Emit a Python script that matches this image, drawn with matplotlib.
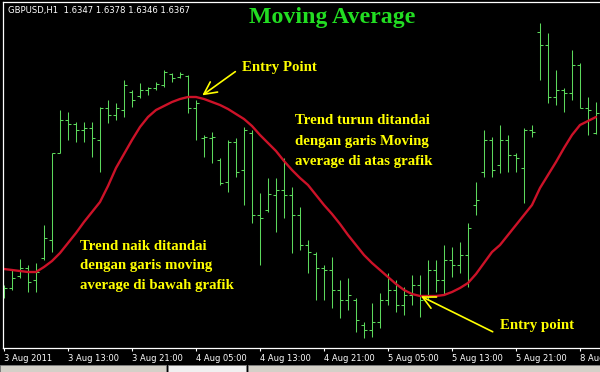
import matplotlib
matplotlib.use("Agg")
import matplotlib.pyplot as plt
from matplotlib.patches import Rectangle

# ---- data (GBPUSD H1) ----
high = [1.6195, 1.6210, 1.6221, 1.6215, 1.6217, 1.6255, 1.6327, 1.6370, 1.6368, 1.6358,
        1.6358, 1.6358, 1.6373, 1.6380, 1.6377, 1.6400, 1.6390, 1.6397, 1.6393, 1.6398,
        1.6410, 1.6407, 1.6408, 1.6405, 1.6380, 1.6345, 1.6348, 1.6322, 1.6340, 1.6342,
        1.6353, 1.6350, 1.6287, 1.6302, 1.6302, 1.6322, 1.6293, 1.6273, 1.6240, 1.6228,
        1.6215, 1.6223, 1.6200, 1.6202, 1.6182, 1.6158, 1.6177, 1.6187, 1.6207, 1.6200,
        1.6193, 1.6205, 1.6205, 1.6220, 1.6220, 1.6235, 1.6233, 1.6238, 1.6257, 1.6298,
        1.6350, 1.6343, 1.6355, 1.6345, 1.6327, 1.6352, 1.6355, 1.6457, 1.6447, 1.6410,
        1.6392, 1.6430, 1.6417, 1.6383, 1.6378]
low = [1.6182, 1.6190, 1.6202, 1.6188, 1.6188, 1.6220, 1.6228, 1.6327, 1.6340, 1.6338,
       1.6338, 1.6323, 1.6308, 1.6357, 1.6360, 1.6363, 1.6373, 1.6382, 1.6385, 1.6390,
       1.6393, 1.6398, 1.6402, 1.6367, 1.6340, 1.6323, 1.6317, 1.6295, 1.6288, 1.6303,
       1.6275, 1.6257, 1.6215, 1.6268, 1.6248, 1.6262, 1.6227, 1.6230, 1.6207, 1.6180,
       1.6180, 1.6172, 1.6162, 1.6170, 1.6148, 1.6142, 1.6143, 1.6152, 1.6175, 1.6168,
       1.6165, 1.6175, 1.6163, 1.6180, 1.6188, 1.6185, 1.6203, 1.6207, 1.6193, 1.6265,
       1.6303, 1.6303, 1.6307, 1.6308, 1.6308, 1.6277, 1.6343, 1.6400, 1.6377, 1.6375,
       1.6368, 1.6380, 1.6372, 1.6345, 1.6346]
open_ = [1.6188, 1.6192, 1.6204, 1.6212, 1.6200, 1.6222, 1.6240, 1.6327, 1.6360, 1.6356,
         1.6350, 1.6352, 1.6340, 1.6372, 1.6365, 1.6370, 1.6388, 1.6384, 1.6390, 1.6392,
         1.6395, 1.6406, 1.6403, 1.6404, 1.6372, 1.6342, 1.6342, 1.6320, 1.6298, 1.6338,
         1.6310, 1.6347, 1.6265, 1.6270, 1.6285, 1.6290, 1.6285, 1.6265, 1.6235, 1.6226,
         1.6212, 1.6210, 1.6190, 1.6180, 1.6180, 1.6155, 1.6150, 1.6158, 1.6180, 1.6190,
         1.6175, 1.6185, 1.6195, 1.6185, 1.6210, 1.6200, 1.6220, 1.6215, 1.6225, 1.6275,
         1.6308, 1.6340, 1.6315, 1.6340, 1.6325, 1.6312, 1.6350, 1.6448, 1.6435, 1.6383,
         1.6390, 1.6387, 1.6415, 1.6372, 1.6347]
close = [1.6192, 1.6202, 1.6212, 1.6198, 1.6208, 1.6242, 1.6327, 1.6360, 1.6356, 1.6350,
         1.6352, 1.6342, 1.6372, 1.6365, 1.6372, 1.6395, 1.6380, 1.6390, 1.6392, 1.6396,
         1.6408, 1.6402, 1.6406, 1.6372, 1.6377, 1.6343, 1.6343, 1.6297, 1.6338, 1.6308,
         1.6350, 1.6265, 1.6262, 1.6286, 1.6290, 1.6285, 1.6265, 1.6235, 1.6228, 1.6212,
         1.6210, 1.6190, 1.6180, 1.6185, 1.6160, 1.6150, 1.6158, 1.6180, 1.6190, 1.6175,
         1.6185, 1.6195, 1.6180, 1.6210, 1.6200, 1.6220, 1.6215, 1.6225, 1.6252, 1.6280,
         1.6340, 1.6310, 1.6340, 1.6325, 1.6322, 1.6350, 1.6348, 1.6435, 1.6383, 1.6390,
         1.6387, 1.6415, 1.6372, 1.6370, 1.6367]
ma = [1.6211, 1.6210, 1.6209, 1.6208, 1.6208, 1.6213, 1.6219, 1.6227, 1.6237, 1.6247,
      1.6258, 1.6268, 1.6278, 1.6294, 1.6312, 1.6326, 1.6340, 1.6353, 1.6363, 1.6370,
      1.6374, 1.6378, 1.6381, 1.6383, 1.6383, 1.6381, 1.6378, 1.6375, 1.6371, 1.6366,
      1.6361, 1.6354, 1.6345, 1.6337, 1.6329, 1.6319, 1.6310, 1.6302, 1.6295, 1.6285,
      1.6275, 1.6266, 1.6256, 1.6245, 1.6235, 1.6225, 1.6217, 1.6210, 1.6203, 1.6196,
      1.6190, 1.6186, 1.6184, 1.6184, 1.6184, 1.6185, 1.6188, 1.6192, 1.6197, 1.6206,
      1.6217, 1.6228, 1.6235, 1.6245, 1.6255, 1.6265, 1.6275, 1.6292, 1.6305, 1.6318,
      1.6332, 1.6345, 1.6355, 1.6359, 1.6363]
tick_idx = [0, 8, 16, 24, 32, 40, 48, 56, 64, 72]
tick_labels = ["3 Aug 2011", "3 Aug 13:00", "3 Aug 21:00", "4 Aug 05:00", "4 Aug 13:00",
               "4 Aug 21:00", "5 Aug 05:00", "5 Aug 13:00", "5 Aug 21:00", "8 Aug 05:00"]
symbol_text = "GBPUSD,H1  1.6347 1.6378 1.6346 1.6367"

W, H = 600, 372
fig = plt.figure(figsize=(W / 100, H / 100), dpi=100, facecolor="black")
ax = fig.add_axes([3 / W, 24 / H, 597 / W, 346 / H], facecolor="black")

x = list(range(len(high)))
bar_col = "#5cd85c"
lw = 0.75
ax.vlines(x, low, high, color=bar_col, lw=lw)
ax.hlines(open_, [i - 0.32 for i in x], x, color=bar_col, lw=lw)
ax.hlines(close, x, [i + 0.32 for i in x], color=bar_col, lw=lw)
ax.plot(x, ma, color="#cc1228", lw=1.7, solid_capstyle="round")

ax.set_xlim(-0.125, 74.5)
ax.set_ylim(1.6132, 1.6478)

for s in ["left", "top", "bottom"]:
    ax.spines[s].set_color("white")
    ax.spines[s].set_linewidth(0.9)
ax.spines["right"].set_visible(False)
ax.set_yticks([])
ax.set_xticks(tick_idx)
ax.set_xticklabels(tick_labels, ha="left", color="white", fontsize=6.0,
                   family="DejaVu Sans")
ax.tick_params(axis="x", direction="out", length=2.5, width=0.8, color="white", pad=1.5)

def fx(px):
    return px / W

def fy(py):
    return 1 - py / H

fig.text(fx(8), fy(10), symbol_text, color="white", fontsize=6.1,
         family="DejaVu Sans", va="center", ha="left")
fig.text(fx(332), fy(18), "Moving Average", color="#22dd22", fontsize=17.2,
         family="Liberation Serif", weight="bold", va="center", ha="center")

yel = "#ffff00"
tkw = dict(color=yel, fontsize=10.7, family="Liberation Serif", weight="bold",
           va="center", ha="left")
fig.text(fx(242), fy(68), "Entry Point", **tkw)
fig.text(fx(295), fy(121), "Trend turun ditandai", **tkw)
fig.text(fx(295), fy(141), "dengan garis Moving", **tkw)
fig.text(fx(295), fy(161), "average di atas grafik", **tkw)
fig.text(fx(80), fy(246), "Trend naik ditandai", **tkw)
fig.text(fx(80), fy(266), "dengan garis moving", **tkw)
fig.text(fx(80), fy(286), "average di bawah grafik", **tkw)
fig.text(fx(500), fy(326), "Entry point", **tkw)

# arrows pointing to the entry points (on the moving average)
ax.annotate("", xy=(24.5, ma[24]), xytext=(29.2, 1.6410),
            arrowprops=dict(arrowstyle="->,head_length=0.9,head_width=0.45",
                            color=yel, lw=1.2))
ax.annotate("", xy=(51.8, 1.6185), xytext=(61.4, 1.6147),
            arrowprops=dict(arrowstyle="->,head_length=0.9,head_width=0.45",
                            color=yel, lw=1.2))

# bottom tab strip
ov = fig.add_axes([0, 0, 1, 1], facecolor="none")
ov.set_xlim(0, W)
ov.set_ylim(H, 0)
ov.axis("off")
for x0, x1, fc in [(0, 166, "#d4d0c8"), (168, 246, "#f0f0f0"), (248, 600, "#d4d0c8")]:
    ov.add_patch(Rectangle((x0, 365), x1 - x0, 8, facecolor=fc, edgecolor="#808080", lw=0.6))

fig.savefig("out.png", dpi=100, facecolor="black")
